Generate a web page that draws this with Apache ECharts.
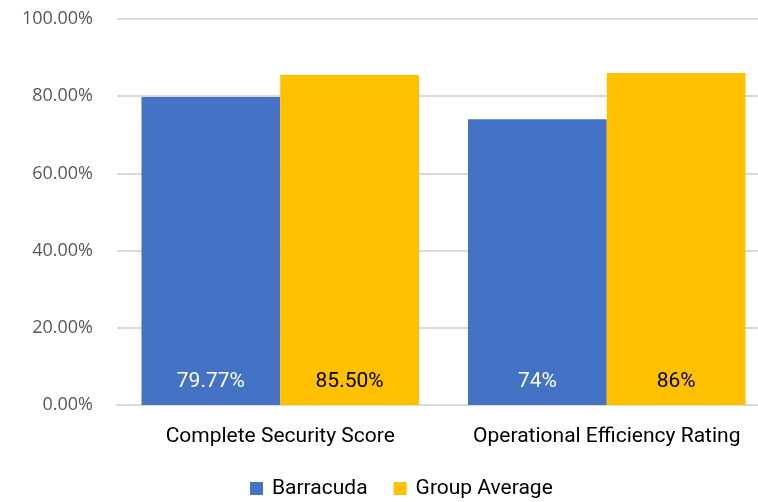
<!DOCTYPE html>
<html>
<head>
<meta charset="utf-8">
<script src="https://cdn.jsdelivr.net/npm/echarts@6/dist/echarts.min.js"></script>
<style>
  html, body { margin: 0; padding: 0; background: #fff; }
  #chart { width: 758px; height: 502px; }
</style>
</head>
<body>
<div id="chart"></div>
<script>
const categories = ['Complete Security Score', 'Operational Efficiency Rating']
const barracuda = [79.77, 74]
const groupAverage = [85.5, 86]
const barracudaLabels = ['79.77%', '74%']
const groupLabels = ['85.50%', '86%']

const chart = echarts.init(document.getElementById('chart'))
const font = 'Roboto, sans-serif'

const option = {
  animation: false,
  grid: { left: 117, right: -12, top: 19, bottom: 97, outerBoundsMode: 'none' },
  legend: {
    top: 478,
    left: 250,
    padding: 0,
    itemWidth: 13,
    itemHeight: 13,
    itemGap: 26,
    icon: 'rect',
    textStyle: { fontFamily: font, fontSize: 21, color: '#000', padding: [0, 0, 0, 4] },
    data: ['Barracuda', 'Group Average'],
  },
  xAxis: {
    type: 'category',
    data: categories,
    axisTick: { show: false },
    axisLine: { lineStyle: { color: '#d9d9d9', width: 2 } },
    axisLabel: { interval: 0, fontFamily: font, fontSize: 21, color: '#000', margin: 21 },
  },
  yAxis: {
    type: 'value',
    min: 0,
    max: 100,
    interval: 20,
    axisLine: { show: false },
    axisTick: { show: false },
    splitLine: { lineStyle: { color: '#d9d9d9', width: 2 } },
    axisLabel: {
      fontFamily: '"Open Sans", sans-serif',
      fontSize: 18,
      color: '#595959',
      margin: 24,
      formatter: (v) => v.toFixed(2) + '%',
    },
  },
  series: [
    {
      name: 'Barracuda',
      type: 'bar',
      data: barracuda,
      barGap: '0%',
      barCategoryGap: '15%',
      itemStyle: { color: '#4472c4' },
      label: {
        show: true,
        position: 'insideBottom',
        distance: 13,
        fontFamily: font,
        fontSize: 21,
        color: '#fff',
        formatter: (p) => barracudaLabels[p.dataIndex],
      },
    },
    {
      name: 'Group Average',
      type: 'bar',
      data: groupAverage,
      itemStyle: { color: '#ffc000' },
      label: {
        show: true,
        position: 'insideBottom',
        distance: 13,
        fontFamily: font,
        fontSize: 21,
        color: '#000',
        formatter: (p) => groupLabels[p.dataIndex],
      },
    },
  ],
}

chart.setOption(option)
</script>
</body>
</html>
